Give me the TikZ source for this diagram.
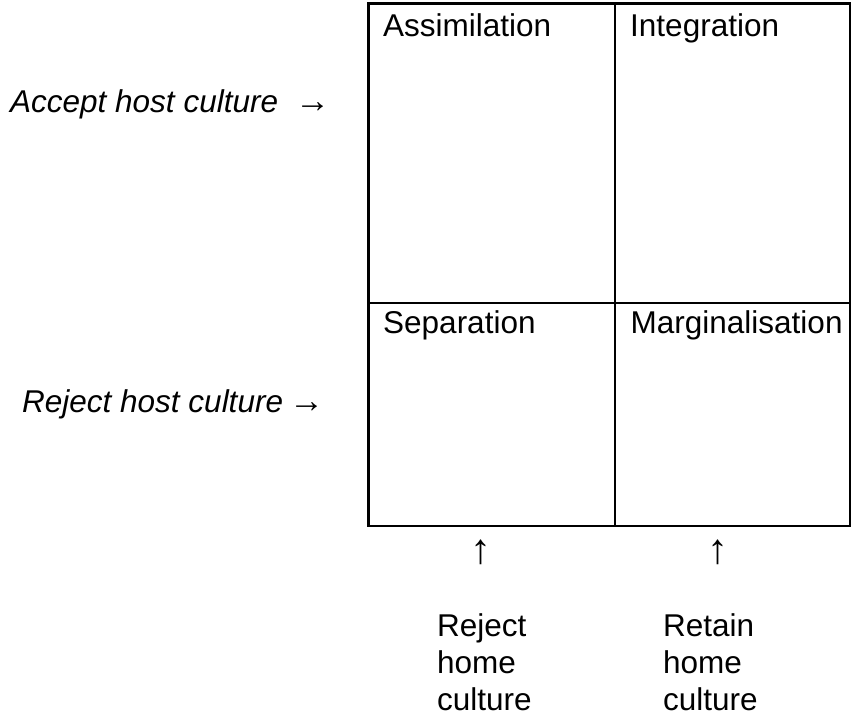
\documentclass[tikz,border=0pt]{standalone}
\usepackage{fontspec}
\setmainfont{Liberation Sans}
\newfontfamily\arrowfont{Liberation Serif}
\begin{document}
\begin{tikzpicture}[x=1pt,y=-1pt,
  grid/.style={line width=2.4pt},
  txt/.style={inner sep=0pt,anchor=base west,font=\fontsize{31.5}{37}\selectfont},
  side/.style={txt,font=\fontsize{31.5}{37}\selectfont\itshape},
  uparrow/.style={inner sep=0pt,anchor=base,font=\fontsize{42}{44}\selectfont\arrowfont}]
\useasboundingbox (0,0) rectangle (851,722);
% grid
\coordinate (tl) at (368.5,3.5);
\coordinate (tm) at (615,3.5);
\coordinate (tr) at (849.8,3.5);
\coordinate (ml) at (368.5,303);
\coordinate (mr) at (849.8,303);
\coordinate (bl) at (368.5,526);
\coordinate (bm) at (615,526);
\coordinate (br) at (849.8,526);
\draw[grid] (tl) -- (tr) -- (br) -- (bl) -- cycle;
\draw[grid] (tm) -- (bm);
\draw[grid] (ml) -- (mr);
% cell labels
\node[txt] (assim) at (383,37) {Assimilation};
\node[txt] (integ) at (630,37) {Integration};
\node[txt] (separ) at (383,333) {Separation};
\node[txt] (margi) at (630.5,333) {Marginalisation};
% side labels
\node[side] (accept) at (10,113) {Accept host culture\hspace{17pt}{\upshape\fontsize{35}{37}\selectfont\arrowfont →}};
\node[side] (reject) at (22,412) {Reject host culture\hspace{6pt}{\upshape\fontsize{35}{37}\selectfont\arrowfont →}};
% bottom arrows
\node[uparrow] (up1) at (481,563) {↑};
\node[uparrow] (up2) at (718,563) {↑};
% bottom labels
\node[txt,align=left] (rejhome) at (437,710) {Reject\\home\\culture};
\node[txt,align=left] (rethome) at (663,710) {Retain\\home\\culture};
\end{tikzpicture}
\end{document}
